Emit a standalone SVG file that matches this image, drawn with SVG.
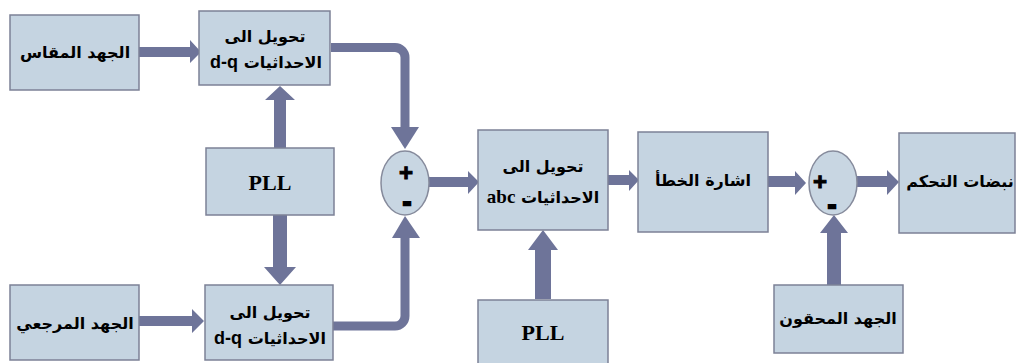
<svg xmlns="http://www.w3.org/2000/svg" width="1016" height="363" viewBox="0 0 1016 363">
<style>
.box{fill:#c5d4e1;stroke:#7c8196;stroke-width:1.5}
.sum{fill:#c8d6e2;stroke:#868b9c;stroke-width:1.5}
.ar{fill:#6e7499;stroke:none}
.pipe{fill:none;stroke:#6e7499;stroke-width:9}
.t{font-family:"DejaVu Sans","Liberation Sans",sans-serif;font-weight:bold;font-size:16px;fill:#000;text-anchor:middle}
.s{font-family:"Liberation Serif",serif;font-weight:bold;font-size:22px;fill:#000;text-anchor:middle}
.lat{font-family:"Liberation Sans",sans-serif;font-weight:bold;font-size:18px}
.ser{font-family:"Liberation Serif",serif;font-weight:bold;font-size:19px}
.pm{font-family:"Liberation Sans",sans-serif;font-weight:bold;font-size:24px;fill:#000;stroke:#000;stroke-width:1;text-anchor:middle}
.mn{stroke-width:2.5}
</style>
<rect width="1016" height="363" fill="#fff"/>
<g id="connectors">
<polygon class="ar" points="139,47 190,47 190,40 201,52 190,63 190,57 139,57"/>
<polygon class="ar" points="139,316 192,316 192,309 204,321 192,333 192,326 139,326"/>
<polygon class="ar" points="274,148 274,100 265,100 280,86 295,100 286,100 286,148"/>
<polygon class="ar" points="273,215 273,267 264,267 280,285 296,267 287,267 287,215"/>
<path class="pipe" d="M331 47.5 H395 A10 10 0 0 1 405 57.5 V128"/>
<polygon class="ar" points="391,127 419,127 405,149"/>
<path class="pipe" d="M333 326 H395 A10 10 0 0 0 405 316 V237"/>
<polygon class="ar" points="392,238 420,238 405,216"/>
<polygon class="ar" points="429,177 468,177 468,171 479,182 468,194 468,187 429,187"/>
<polygon class="ar" points="535,299 535,250 528,250 543,230 558,250 551,250 551,299"/>
<polygon class="ar" points="608,175 629,175 629,170 639,180 629,191 629,185 608,185"/>
<polygon class="ar" points="768,176 795,176 795,171 806,183 795,195 795,187 768,187"/>
<polygon class="ar" points="857,176 887,176 887,170 899,182 887,195 887,187 857,187"/>
<polygon class="ar" points="827,285 827,233 820,233 834,215 848,233 841,233 841,285"/>
</g>
<g id="measured">
<rect class="box" x="10" y="15" width="129" height="75"/>
<text class="t" x="75" y="58" direction="rtl">الجهد المقاس</text>
</g>
<g id="dq-top">
<rect class="box" x="199" y="11" width="131" height="74"/>
<text class="t" x="265" y="42" direction="rtl">تحويل الى</text>
<text class="t" x="266" y="68" direction="rtl">الاحداثيات <tspan class="lat">d-q</tspan></text>
</g>
<g id="pll-left">
<rect class="box" x="206" y="148" width="128" height="67"/>
<text class="s" x="270" y="190">PLL</text>
</g>
<g id="reference">
<rect class="box" x="10" y="285" width="129" height="75"/>
<text class="t" x="75" y="329" direction="rtl">الجهد المرجعي</text>
</g>
<g id="dq-bottom">
<rect class="box" x="205" y="285" width="128" height="75"/>
<text class="t" x="270" y="318" direction="rtl">تحويل الى</text>
<text class="t" x="270" y="344" direction="rtl">الاحداثيات <tspan class="lat">d-q</tspan></text>
</g>
<g id="sum1">
<ellipse class="sum" cx="405" cy="183" rx="24" ry="32"/>
<text class="pm" x="406" y="181">+</text>
<text class="pm mn" x="407" y="210">-</text>
</g>
<g id="abc">
<rect class="box" x="478" y="130" width="130" height="100"/>
<text class="t" x="543" y="172" direction="rtl">تحويل الى</text>
<text class="t" x="543" y="203" direction="rtl">الاحداثيات <tspan class="ser">abc</tspan></text>
</g>
<g id="pll-bottom">
<rect class="box" x="478" y="300" width="130" height="70"/>
<text class="s" x="543" y="340">PLL</text>
</g>
<g id="error">
<rect class="box" x="638" y="132" width="130" height="100"/>
<text class="t" x="703" y="186" direction="rtl">اشارة الخطأ</text>
</g>
<g id="sum2">
<ellipse class="sum" cx="833" cy="183" rx="24" ry="32"/>
<text class="pm" x="820" y="190">+</text>
<text class="pm mn" x="832" y="213">-</text>
</g>
<g id="pulses">
<rect class="box" x="899" y="133" width="116" height="100"/>
<text class="t" x="960" y="187" direction="rtl">نبضات التحكم</text>
</g>
<g id="injected">
<rect class="box" x="774" y="285" width="129" height="68"/>
<text class="t" x="838" y="324" direction="rtl">الجهد المحقون</text>
</g>
</svg>
